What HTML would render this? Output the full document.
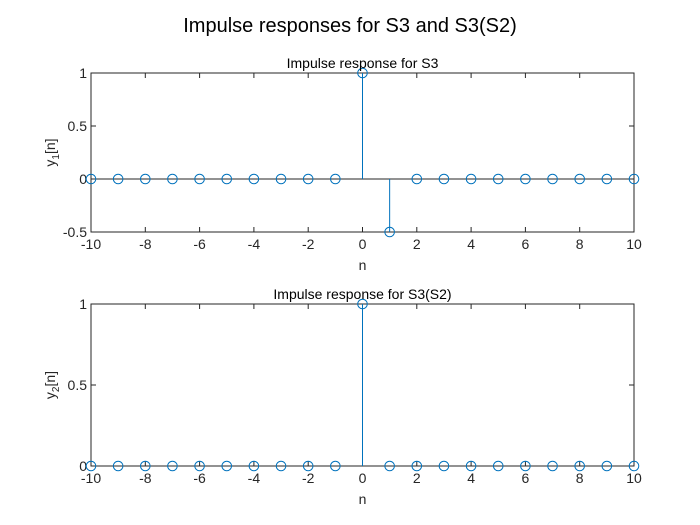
<!DOCTYPE html>
<html><head><meta charset="utf-8"><style>
body{margin:0;background:#fff;}
svg{display:block;font-family:"Liberation Sans",Arial,sans-serif;}
</style></head><body>
<svg id="c" width="700" height="525" viewBox="0 0 700 525">
<rect width="700" height="525" fill="#fff"/>
<text x="350" y="32" font-size="20" text-anchor="middle" fill="#000">Impulse responses for S3 and S3(S2)</text>
</svg>
<script>
const nValues=[-10,-9,-8,-7,-6,-5,-4,-3,-2,-1,0,1,2,3,4,5,6,7,8,9,10];
const y1Values=[0,0,0,0,0,0,0,0,0,0,1,-0.5,0,0,0,0,0,0,0,0,0];
const y2Values=[0,0,0,0,0,0,0,0,0,0,1,0,0,0,0,0,0,0,0,0,0];
const xTicks=[-10,-8,-6,-4,-2,0,2,4,6,8,10];
const y1Ticks=[-0.5,0,0.5,1];
const y2Ticks=[0,0.5,1];
const svg=document.getElementById('c');
const NS='http://www.w3.org/2000/svg';
function el(t,a,p){const e=document.createElementNS(NS,t);for(const k in a)e.setAttribute(k,a[k]);(p||svg).appendChild(e);return e;}
function panel(cfg){
  const g=el('g',{});
  
  
  const L=91,R=634,T=cfg.top,B=cfg.bottom;
  const sx=v=>L+(v+10)/20*(R-L);
  const sy=v=>B-(v-cfg.ymin)/(cfg.ymax-cfg.ymin)*(B-T);
  el('rect',{x:L,y:T,width:R-L,height:B-T,fill:'#fff',stroke:'#262626','stroke-width':1},g);
  xTicks.forEach(t=>{
    const x=sx(t);
    el('line',{x1:x,x2:x,y1:B,y2:B-5,stroke:'#262626'},g);
    el('line',{x1:x,x2:x,y1:T,y2:T+5,stroke:'#262626'},g);
    const tx=el('text',{x:x,y:B+17,'font-size':14,'text-anchor':'middle',fill:'#262626'},g);
    tx.textContent=t;
    
    
  });
  cfg.yTicks.forEach(t=>{
    const y=sy(t);
    el('line',{x1:L,x2:L+5,y1:y,y2:y,stroke:'#262626'},g);
    el('line',{x1:R,x2:R-5,y1:y,y2:y,stroke:'#262626'},g);
    const tx=el('text',{x:L-4,y:y+5,'font-size':14,'text-anchor':'end',fill:'#262626'},g);
    tx.textContent=t;
    
    
  });
  el('line',{x1:L,x2:R,y1:sy(0),y2:sy(0),stroke:'#262626'},g);
  nValues.forEach((n,i)=>{
    const v=cfg.vals[i],x=sx(n);
    if(v!==0){const s=el('line',{x1:x,x2:x,y1:sy(0),y2:sy(v),stroke:'#0072BD','stroke-width':1},g);
      
      }
    const c=el('circle',{cx:x,cy:sy(v),r:4.8,fill:'none',stroke:'#0072BD','stroke-width':1},g);
    
    
  });
  const ti=el('text',{x:(L+R)/2,y:T-5,'font-size':14,'text-anchor':'middle',fill:'#000'},g);
  ti.textContent=cfg.title;
  
  
  const xl=el('text',{x:(L+R)/2,y:B+38,'font-size':14,'text-anchor':'middle',fill:'#262626'},g);
  xl.textContent='n';
  
  
  const cy=(T+B)/2;
  const yl=el('text',{transform:`translate(55,${cy}) rotate(-90)`,'font-size':14,'text-anchor':'middle',fill:'#262626'},g);
  yl.innerHTML='y<tspan font-size="10" dy="4">'+cfg.sub+'</tspan><tspan dy="-4">[n]</tspan>';
  
  
}
panel({name:'top-axes',top:73,bottom:232,ymin:-0.5,ymax:1,yTicks:y1Ticks,vals:y1Values,title:'Impulse response for S3',sub:'1'});
panel({name:'bottom-axes',top:304,bottom:466,ymin:0,ymax:1,yTicks:y2Ticks,vals:y2Values,title:'Impulse response for S3(S2)',sub:'2'});
</script>
</body></html>
